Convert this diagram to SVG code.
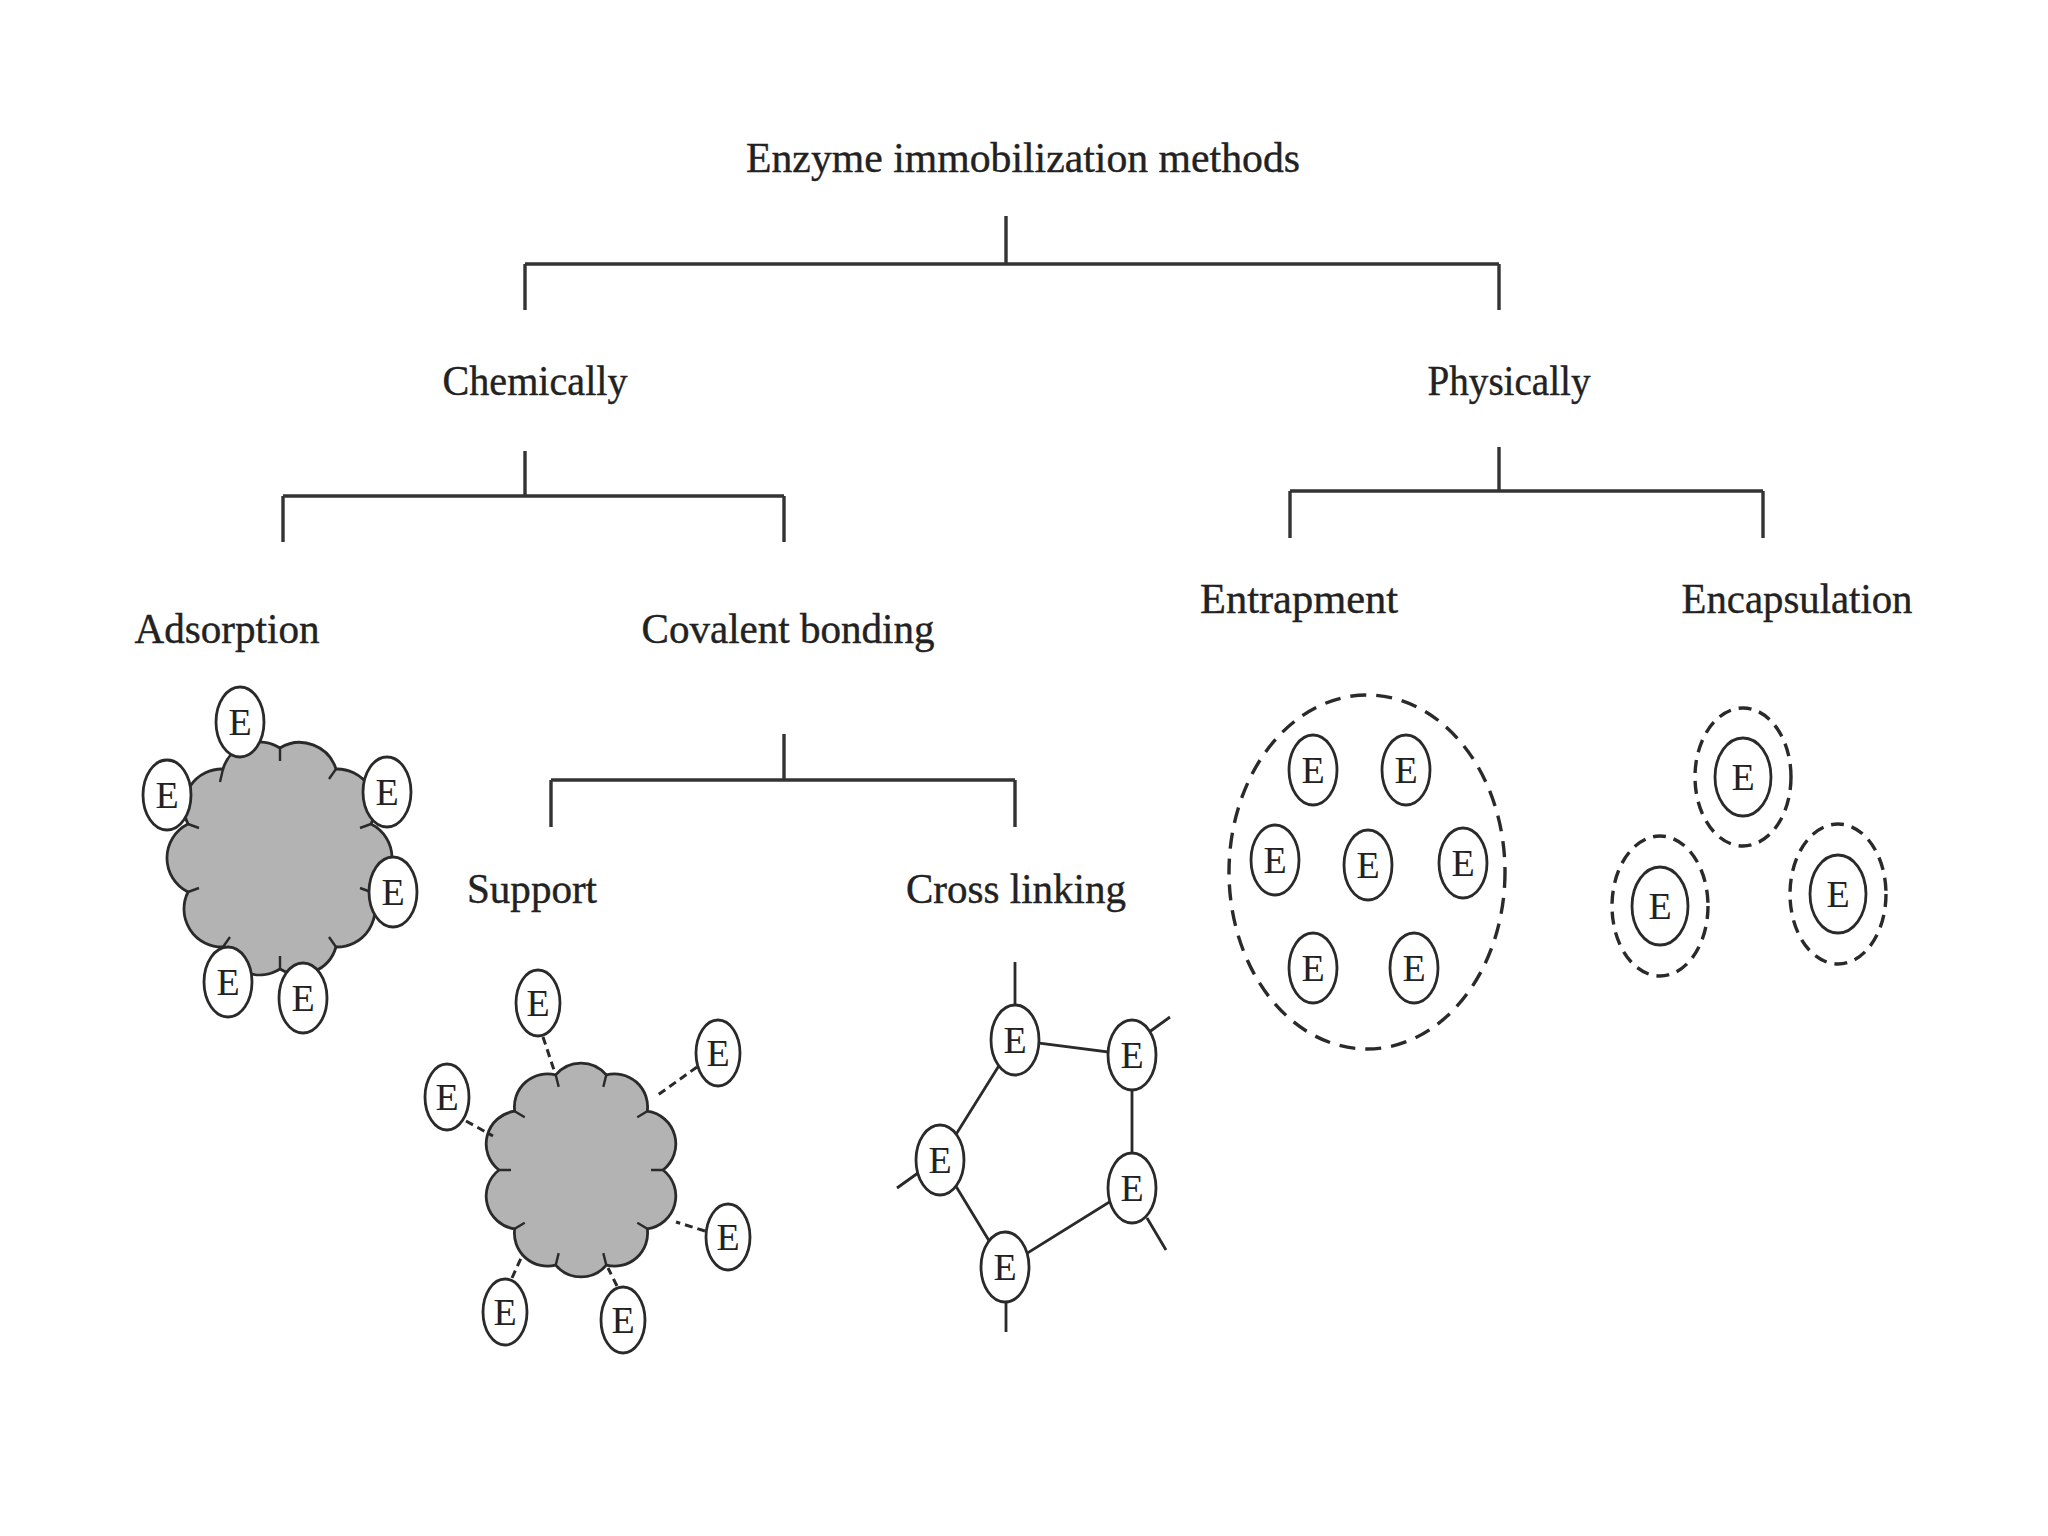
<svg xmlns="http://www.w3.org/2000/svg" width="2048" height="1536" viewBox="0 0 2048 1536">
<style>
.lbl{font-family:"Liberation Serif","Times New Roman",serif;font-size:42px;fill:#222;text-anchor:middle;stroke:#222;stroke-width:0.4}
.etx{font-family:"Liberation Serif","Times New Roman",serif;font-size:38px;fill:#222;text-anchor:middle}
.tree{stroke:#333;stroke-width:3.4;fill:none}
.enz{fill:#fff;stroke:#2a2a2a;stroke-width:2.8}
.cloud{fill:#b3b3b3;stroke:#2a2a2a;stroke-width:2.8}
.tick{stroke:#2a2a2a;stroke-width:2.4;fill:none}
.dash{stroke:#2a2a2a;stroke-width:3;fill:none;stroke-dasharray:8 5}
.bond{stroke:#2a2a2a;stroke-width:2.8;fill:none}
.shell{fill:none;stroke:#2a2a2a;stroke-width:3.4;stroke-dasharray:13 8}
.big{fill:none;stroke:#2a2a2a;stroke-width:3.4;stroke-dasharray:16 10}
</style>
<defs>
<g id="E">
<ellipse class="enz" cx="0" cy="0" rx="24" ry="35"/>
<text class="etx" x="0" y="13">E</text>
</g>
<g id="Es">
<ellipse class="enz" cx="0" cy="0" rx="22" ry="33"/>
<text class="etx" x="0" y="13">E</text>
</g>
<g id="Ei">
<ellipse class="enz" cx="0" cy="0" rx="28" ry="39"/>
<text class="etx" x="0" y="13">E</text>
</g>
</defs>
<rect width="2048" height="1536" fill="#fff"/>

<g id="connectors">
<path class="tree" d="M1006 216V264M525 264H1499M525 264V310M1499 264V310"/>
<path class="tree" d="M525 451V496M283 496H784M283 496V542M784 496V542"/>
<path class="tree" d="M1499 447V491M1290 491H1763M1290 491V538M1763 491V538"/>
<path class="tree" d="M784 734V780M551 780H1015M551 780V827M1015 780V827"/>
</g>

<g id="title"><text class="lbl" x="1023" y="172" textLength="554" lengthAdjust="spacingAndGlyphs">Enzyme immobilization methods</text></g>
<g id="chemically"><text class="lbl" x="535" y="395" textLength="185" lengthAdjust="spacingAndGlyphs">Chemically</text></g>
<g id="physically"><text class="lbl" x="1509" y="395" textLength="163" lengthAdjust="spacingAndGlyphs">Physically</text></g>
<g id="adsorption-label"><text class="lbl" x="227" y="643" textLength="185" lengthAdjust="spacingAndGlyphs">Adsorption</text></g>
<g id="covalent-label"><text class="lbl" x="788" y="643" textLength="293" lengthAdjust="spacingAndGlyphs">Covalent bonding</text></g>
<g id="entrapment-label"><text class="lbl" x="1299" y="613" textLength="198" lengthAdjust="spacingAndGlyphs">Entrapment</text></g>
<g id="encapsulation-label"><text class="lbl" x="1797" y="613" textLength="231" lengthAdjust="spacingAndGlyphs">Encapsulation</text></g>
<g id="support-label"><text class="lbl" x="532" y="903" textLength="130" lengthAdjust="spacingAndGlyphs">Support</text></g>
<g id="crosslinking-label"><text class="lbl" x="1016" y="903" textLength="220" lengthAdjust="spacingAndGlyphs">Cross linking</text></g>

<g id="adsorption">
<path class="cloud" d="M280 748A38 38 0 0 1 336 769A38 38 0 0 1 371 824A38 38 0 0 1 371 892A38 38 0 0 1 336 947A38 38 0 0 1 280 969A38 38 0 0 1 223 947A38 38 0 0 1 188 892A38 38 0 0 1 188 824A38 38 0 0 1 223 769A38 38 0 0 1 280 748Z"/>
<path class="tick" d="M280 748l0 13M336 769l-7 10M371 824l-11 4M371 892l-11 -4M336 947l-7 -10M280 969l0 -13M223 947l7 -10M188 892l11 -4M188 824l11 4M223 769l-3 13"/>
<use href="#E" x="240" y="722"/>
<use href="#E" x="167" y="795"/>
<use href="#E" x="387" y="792"/>
<use href="#E" x="393" y="892"/>
<use href="#E" x="228" y="982"/>
<use href="#E" x="303" y="998"/>
</g>

<g id="support">
<path class="cloud" d="M606.3 1074.9A33 33 0 0 1 647.3 1111.2A33 33 0 0 1 663 1170A33 33 0 0 1 647.3 1228.8A33 33 0 0 1 606.3 1265.1A33 33 0 0 1 555.7 1265.1A33 33 0 0 1 514.7 1228.8A33 33 0 0 1 499 1170A33 33 0 0 1 514.7 1111.2A33 33 0 0 1 555.7 1074.9A33 33 0 0 1 606.3 1074.9Z"/>
<path class="tick" d="M606.3 1074.9l-3 12M647.3 1111.2l-10 6M663 1170l-12 0M647.3 1228.8l-10 -6M606.3 1265.1l-3 -12M555.7 1265.1l3 -12M514.7 1228.8l10 -6M499 1170l12 0M514.7 1111.2l10 6M555.7 1074.9l3 12"/>
<path class="dash" d="M543 1037L554 1070M697 1067L655 1097M466 1121L493 1136M705 1231L676 1222M512 1278L522 1256M617 1286L608 1268"/>
<use href="#Es" x="538" y="1003"/>
<use href="#Es" x="718" y="1053"/>
<use href="#Es" x="447" y="1097"/>
<use href="#Es" x="728" y="1237"/>
<use href="#Es" x="505" y="1312"/>
<use href="#Es" x="623" y="1320"/>
</g>

<g id="crosslinking">
<path class="bond" d="M1015 1040L1132 1055L1132 1188L1005 1267L940 1160Z"/>
<path class="bond" d="M1015 962V1010M1170 1017L1145 1035M897 1188L925 1168M1147 1218L1166 1250M1006 1300V1332"/>
<use href="#E" x="1015" y="1040"/>
<use href="#E" x="1132" y="1055"/>
<use href="#E" x="940" y="1160"/>
<use href="#E" x="1132" y="1188"/>
<use href="#E" x="1005" y="1267"/>
</g>

<g id="entrapment">
<ellipse class="big" cx="1367" cy="872" rx="138" ry="177"/>
<use href="#E" x="1313" y="770"/>
<use href="#E" x="1406" y="770"/>
<use href="#E" x="1275" y="860"/>
<use href="#E" x="1368" y="865"/>
<use href="#E" x="1463" y="863"/>
<use href="#E" x="1313" y="968"/>
<use href="#E" x="1414" y="968"/>
</g>

<g id="encapsulation">
<ellipse class="shell" cx="1743" cy="777" rx="48" ry="69"/>
<use href="#Ei" x="1743" y="777"/>
<ellipse class="shell" cx="1660" cy="906" rx="48" ry="70"/>
<use href="#Ei" x="1660" y="906"/>
<ellipse class="shell" cx="1838" cy="894" rx="48" ry="70"/>
<use href="#Ei" x="1838" y="894"/>
</g>
</svg>
